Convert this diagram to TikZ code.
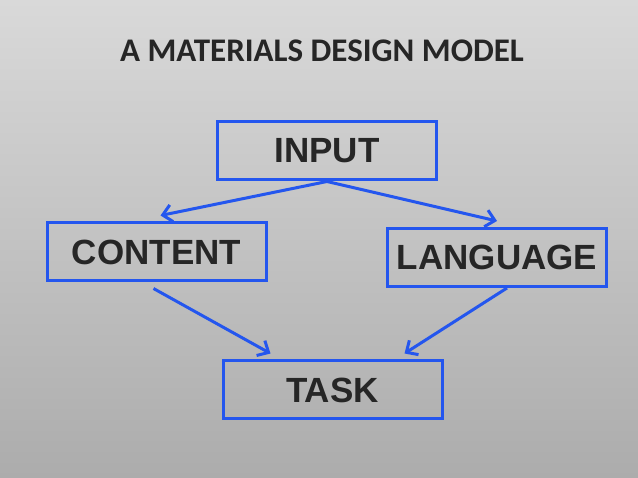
\documentclass[tikz,border=0pt]{standalone}
\usepackage{fontspec}
\setmainfont{Liberation Sans}
\newfontfamily\titlefont{Carlito}
\usepackage{tikz}
\usetikzlibrary{arrows.meta, positioning}
\definecolor{boxblue}{RGB}{36,86,238}
\definecolor{ink}{RGB}{38,38,38}

\begin{document}
\begin{tikzpicture}[x=1pt, y=-1pt,
		modelbox/.style={draw=boxblue, line width=3pt, minimum width=219pt, minimum height=58pt, inner sep=0pt, text=ink, font=\fontsize{35}{40}\selectfont\bfseries},
		flow/.style={draw=boxblue, line width=3pt, -{Straight Barb[length=9pt, width=17pt]}}]
			\shade[top color={rgb,255:red,217;green,217;blue,217}, bottom color={rgb,255:red,172;green,172;blue,172}] (0,0) rectangle (638,478);
			\useasboundingbox (0,0) rectangle (638,478);
			\node[text=ink, font=\titlefont\fontsize{33}{36}\selectfont\bfseries] (title) at (322,51) {A MATERIALS DESIGN MODEL};
			\node[modelbox] (input) at (327,151) {INPUT};
			\node[modelbox] (content) at (156.5,252) {CONTENT};
			\node[modelbox] (language) at (497,257.5) {LANGUAGE};
			\node[modelbox] (task) at (332.5,390) {TASK};
			\draw[flow] (input.south) -- ([xshift=4pt, yshift=6pt]content.north);
			\draw[flow] (input.south) -- ([yshift=6pt]language.north);
			\draw[flow] ([xshift=-3pt, yshift=-6pt]content.south) -- ([xshift=-62pt, yshift=6pt]task.north);
			\draw[flow] ([xshift=10pt]language.south) -- ([xshift=72pt, yshift=6pt]task.north);
		\end{tikzpicture}
\end{document}
